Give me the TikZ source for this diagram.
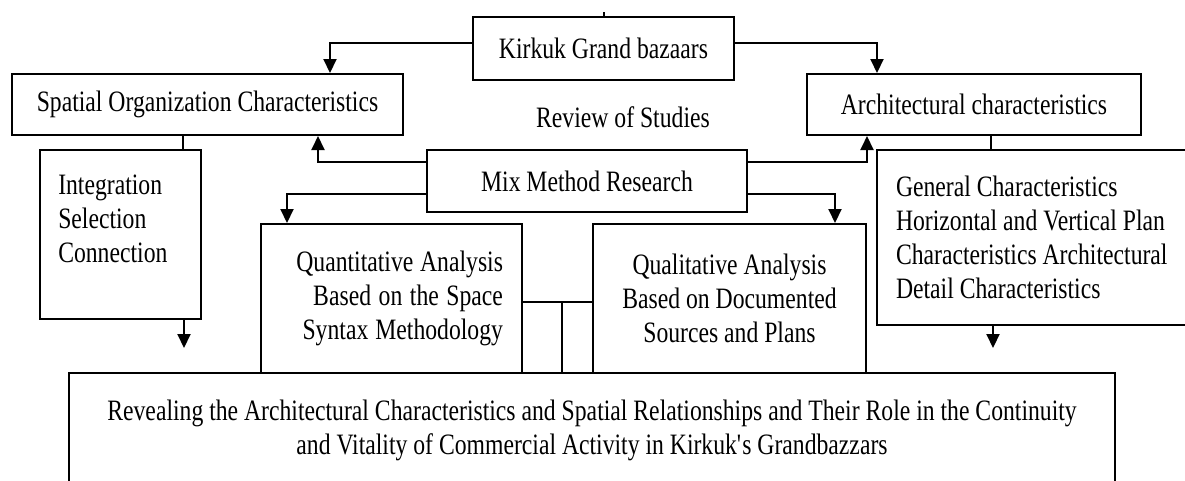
\documentclass[tikz,border=0pt]{standalone}
\usepackage{fontspec}
\setmainfont{Liberation Serif}[FakeStretch=0.8]
\usepackage{tikz}
\usetikzlibrary{arrows.meta}

\tikzset{
  box/.style={draw, line width=1.5pt, inner sep=0pt, font=\fontsize{22.2}{25.5}\selectfont,
    execute at begin node={\spaceskip=0pt\relax}},
  txt/.style={inner sep=0pt, font=\fontsize{22.2}{25.5}\selectfont},
  link/.style={line width=1.5pt},
  arr/.style={line width=1.5pt, -{Triangle[length=10.5pt,width=9.75pt]}}
}

\begin{document}
\begin{tikzpicture}[x=0.75pt,y=0.75pt,yscale=-1,xscale=1]
    \useasboundingbox (0,0) rectangle (1185,480);

    %Shape: Rectangle [kirkuk]
    \node[box, minimum width=195.75pt, minimum height=47.25pt] (kirkuk) at (603.5,48.5) {Kirkuk Grand bazaars};
    %Shape: Rectangle [spatial]
    \node[box, minimum width=293.25pt, minimum height=45.75pt] (spatial) at (207.5,104.5) {Spatial Organization Characteristics};
    %Shape: Rectangle [arch]
    \node[box, minimum width=250.5pt, minimum height=45.75pt] (arch) at (974,104.5) {Architectural characteristics};
    %Text Node
    \node[txt] (review) at (623,117) {Review of Studies};
    %Shape: Rectangle [mix]
    \node[box, minimum width=240pt, minimum height=46.5pt] (mix) at (587,181) {Mix Method Research};
    %Shape: Rectangle [intbox]
    \node[box, minimum width=120.75pt, minimum height=126.75pt] (intbox) at (120.5,234.5) {};
    \node[txt, anchor=west, align=left] (inttext) at (58,219) {Integration\\Selection\\Connection};
    %Shape: Rectangle [quant]
    \node[box, minimum width=195.75pt, minimum height=111.75pt, inner xsep=14.25pt, text width=167.25pt, align=right] (quant) at (391.5,298.5) {Quantitative Analysis\\Based on the Space\\Syntax Methodology};
    %Shape: Rectangle [qual]
    \node[box, minimum width=204.75pt, minimum height=111.75pt, align=center] (qual) at (729.5,298.5) {Qualitative Analysis\\Based on Documented\\Sources and Plans};
    %Shape: Rectangle [detail]
    \node[box, minimum width=268.5pt, minimum height=131.25pt, inner xsep=14.25pt, text width=240pt, align=left] (detail) at (1056,237.5) {General Characteristics\\Horizontal and Vertical Plan\\Characteristics Architectural\\Detail Characteristics};
    %Shape: Rectangle [result]
    \node[box, minimum width=784.5pt, minimum height=86.25pt, align=center] (result) at (592,430.5) {Revealing the Architectural Characteristics and Spatial Relationships and Their Role in the Continuity\\and Vitality of Commercial Activity in Kirkuk\textquotesingle s Grandbazzars};

    %Free ends
    \coordinate (top) at (603.5,12);
    \coordinate (intout) at (184,348);
    \coordinate (detout) at (993,348);

    %Straight Lines
    \draw[link] (kirkuk.north) -- (top);
    \draw[arr] (kirkuk.west |- 0,43) -| (330,0 |- spatial.north);
    \draw[arr] (kirkuk.east |- 0,43) -| (877,0 |- arch.north);
    \draw[arr] (mix.west |- 0,162) -| (318,0 |- spatial.south);
    \draw[arr] (mix.east |- 0,162) -| (867,0 |- arch.south);
    \draw[arr] (mix.west |- 0,194) -| (287,0 |- quant.north);
    \draw[arr] (mix.east |- 0,194) -| (835,0 |- qual.north);
    \draw[link] (183,0 |- spatial.south) -- (183,0 |- intbox.north);
    \draw[arr] (intout |- intbox.south) -- (intout);
    \draw[link] (991,0 |- arch.south) -- (991,0 |- detail.north);
    \draw[arr] (detout |- detail.south) -- (detout);
    \draw[link] (quant.east |- 0,302) -- (qual.west |- 0,302);
    \draw[link] (562,302) -- (562,0 |- result.north);

\end{tikzpicture}
\end{document}
